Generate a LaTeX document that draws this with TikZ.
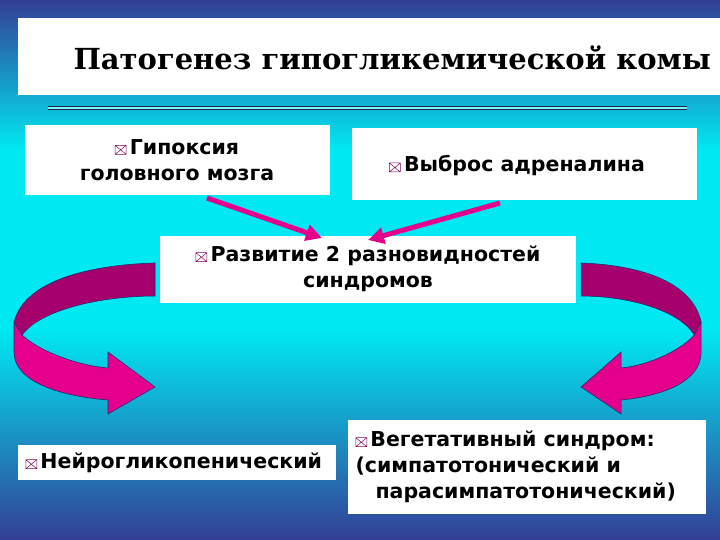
\documentclass[tikz,border=0pt]{standalone}
\usepackage{fontspec}
\usetikzlibrary{arrows.meta}
\setmainfont{DejaVu Sans}
\newfontfamily\titlefont{DejaVu Serif}
\definecolor{bgtop}{RGB}{52,62,150}
\definecolor{bgmid}{RGB}{0,232,242}
\definecolor{darkpink}{RGB}{165,0,110}
\definecolor{pink}{RGB}{228,0,140}
\newcommand\bx{\tikz[baseline=0pt,line width=0.5pt]{\draw[darkpink!80!black] (0,0) rectangle (11pt,9pt) (0,0)--(11pt,9pt) (0,9pt)--(11pt,0);}\,}
\begin{document}
\begin{tikzpicture}[x=1pt,y=-1pt,
  txt/.style={font=\bfseries\fontsize{20.5}{26}\selectfont,align=center},
  band/.style={draw=bgtop!70!black,line width=0.6pt}]
\useasboundingbox (0,0) rectangle (720,540);
\clip (0,0) rectangle (720,540);
\shade[top color=bgtop,bottom color=bgmid] (0,0) rectangle (720,150);
\fill[bgmid] (0,150) rectangle (720,330);
\shade[top color=bgmid,bottom color=bgtop] (0,330) rectangle (720,540);
% title
\fill[white] (18,18) rectangle (720,95);
\node[anchor=west,font=\titlefont\bfseries\fontsize{29}{33}\selectfont] (title) at (70,58) {Патогенез гипогликемической комы};
\draw[bgtop!50!black,line width=0.8pt,double=bgmid!50!white,double distance=1.5pt] (48,108) -- (687,108);
% boxes
\fill[white] (25,125) rectangle (330,195);
\node[txt] (b1) at (177,160) {\bx Гипоксия\\головного мозга};
\fill[white] (352,128) rectangle (697,200);
\node[txt] (b2) at (517,166) {\bx Выброс адреналина};
\fill[white] (160,236) rectangle (576,303);
\node[txt] (b3) at (368,269) {\bx Развитие 2 разновидностей\\синдромов};
\fill[white] (18,445) rectangle (336,480);
\node[txt,anchor=west] (b4) at (22,463) {\bx Нейрогликопенический};
\fill[white] (348,420) rectangle (706,514);
\node[txt,align=left,anchor=west] (b5) at (352,467) {\bx Вегетативный синдром:\\(симпатотонический и\\\hspace{20pt}парасимпатотонический)};
% straight arrows
\coordinate (a1s) at (207,198); \coordinate (a1e) at (322,238);
\coordinate (a2s) at (500,203); \coordinate (a2e) at (368,240);
\draw[pink,line width=5pt,-{Triangle[length=16pt,width=16pt]}] (a1s) -- (a1e);
\draw[pink,line width=5pt,-{Triangle[length=16pt,width=16pt]}] (a2s) -- (a2e);
% curved ribbon arrows
\newcommand\ribbon{%
 \filldraw[band,fill=darkpink] (155,263) .. controls (90,265) and (25,280) .. (14,322)
   -- (22,335) .. controls (40,310) and (100,296) .. (155,296) -- cycle;
 \filldraw[band,fill=pink] (22,335) .. controls (40,352) and (80,366) .. (108,368)
   -- (108,352) -- (155,387) -- (108,414) -- (108,400)
   .. controls (60,396) and (14,382) .. (14,352) -- (14,322) -- cycle;}
\ribbon
\begin{scope}[xshift=713pt,xscale=-0.851]
\ribbon
\end{scope}
\end{tikzpicture}
\end{document}
